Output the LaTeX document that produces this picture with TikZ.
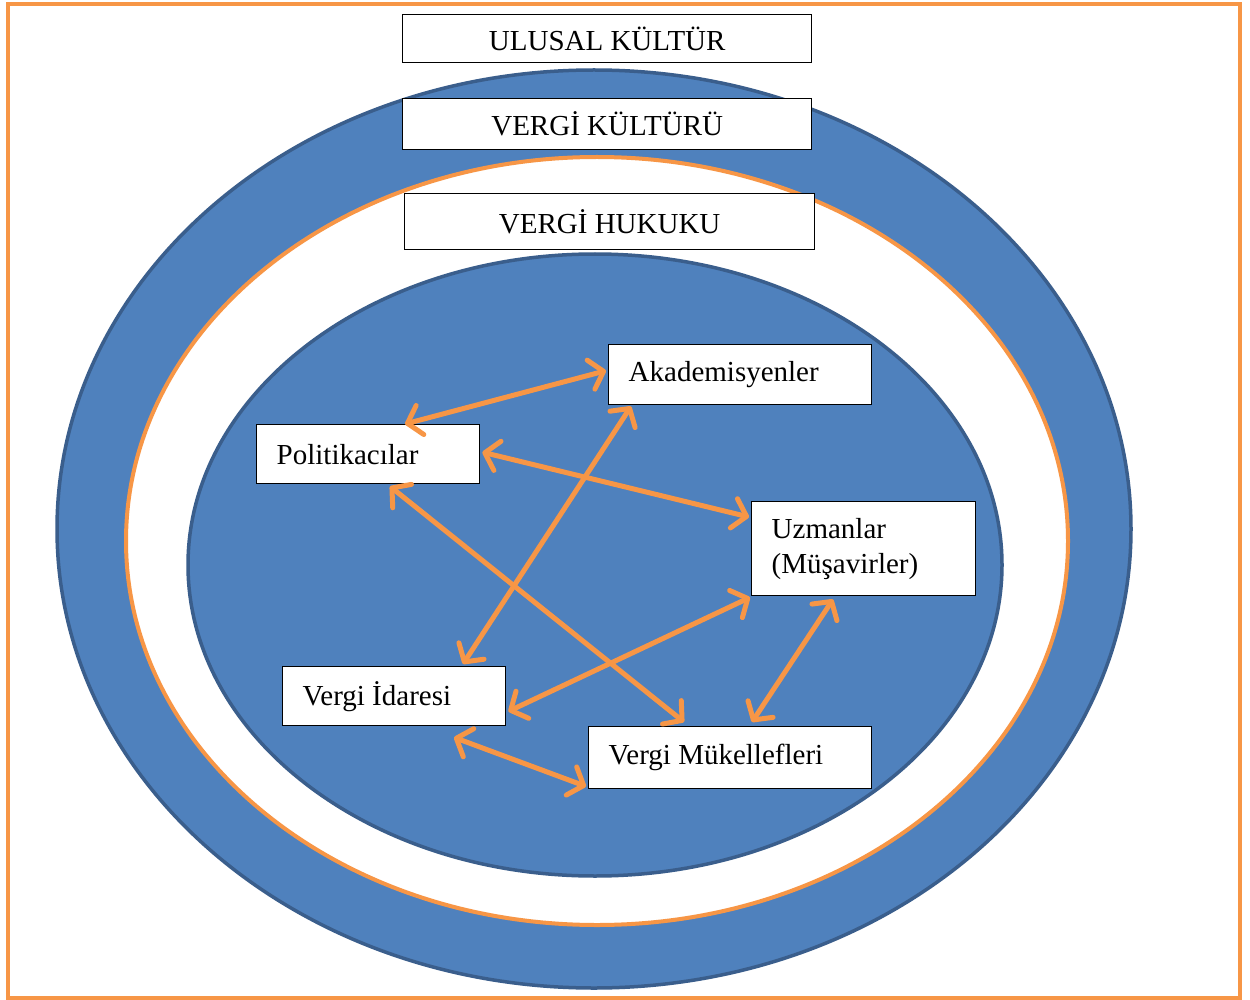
\documentclass[tikz,border=0pt]{standalone}
\usepackage{fontspec}
\setmainfont{Liberation Serif}
\usetikzlibrary{arrows.meta,calc}
\definecolor{ringblue}{HTML}{4F81BD}
\definecolor{ringedge}{HTML}{3A5E8C}
\definecolor{accent}{HTML}{F79646}
\tikzset{
  layerbox/.style={draw=black, line width=1.4pt, fill=white, anchor=north west,
    font=\fontsize{29}{35}\selectfont, inner sep=0pt, align=center},
  actorbox/.style={draw=black, line width=1.4pt, fill=white, anchor=north west,
    font=\fontsize{29}{35}\selectfont, inner xsep=20pt, inner ysep=0pt, align=flush left},
  link/.style={draw=accent, line width=5pt, line cap=round,
    {Straight Barb[round,length=13pt,width=30pt]}-{Straight Barb[round,length=13pt,width=30pt]}},
}
\begin{document}
\begin{tikzpicture}[x=1pt,y=-1pt]
\useasboundingbox (0,0) rectangle (1250,1000);
% frame
\draw[accent, line width=4pt] (8,4) rectangle (1240,998);
% rings
\draw[ringedge, line width=3.5pt, fill=ringblue] (594,529) ellipse [x radius=537, y radius=459];
\draw[accent, line width=4pt, fill=white] (597,541) ellipse [x radius=471, y radius=384];
\draw[ringedge, line width=3.5pt, fill=ringblue] (595,565) ellipse [x radius=407, y radius=311];
% layer labels
\node[layerbox, minimum width=409pt, minimum height=48pt] (ulusal) at (402,14) {ULUSAL KÜLTÜR};
\node[layerbox, minimum width=409pt, minimum height=51pt] (kultur) at (402,98) {VERGİ KÜLTÜRÜ};
\node[layerbox, minimum width=410pt, minimum height=56pt] (hukuk) at (404,193) {VERGİ HUKUKU};
% actors
\node[actorbox, text width=223pt, minimum height=60pt] (aka) at (608,344) {Akademisyenler};
\node[actorbox, text width=183pt, minimum height=59pt] (pol) at (256,424) {Politikacılar};
\node[actorbox, text width=184pt, minimum height=94pt] (uzm) at (751,501) {Uzmanlar\\(Müşavirler)};
\node[actorbox, text width=183pt, minimum height=59pt] (ida) at (282,666) {Vergi İdaresi};
\node[actorbox, text width=243pt, minimum height=62pt] (muk) at (588,726) {Vergi Mükellefleri};
% relations
\draw[link] ($(pol.north west)+(149,0)$) -- ($(aka.west)+(-2,-4)$);
\draw[link] ($(pol.east)+(2,-2)$) -- ($(uzm.north west)+(-2,16)$);
\draw[link] ($(aka.south west)+(23,1)$) -- ($(ida.north west)+(181,-2)$);
\draw[link] ($(pol.south west)+(134,2)$) -- ($(muk.north west)+(96,-4)$);
\draw[link] ($(uzm.south west)+(-1,1)$) -- ($(ida.south east)+(2,-15)$);
\draw[link] ($(uzm.south west)+(82,3)$) -- ($(muk.north west)+(164,-4)$);
\draw[link] ($(ida.south west)+(172,11)$) -- ($(muk.south west)+(-2,-3)$);
\end{tikzpicture}
\end{document}
